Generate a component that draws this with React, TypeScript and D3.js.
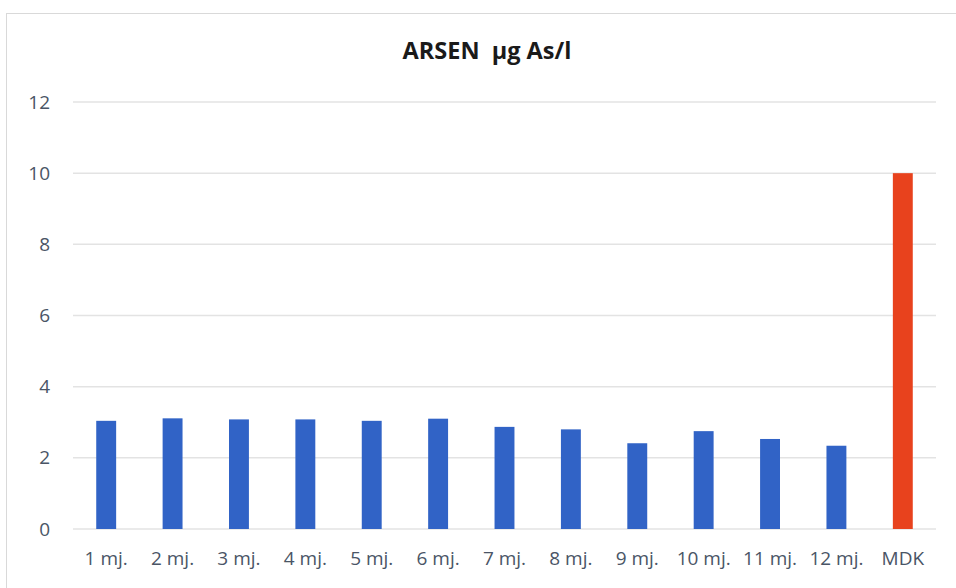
import { useEffect, useRef } from "react";
import * as d3 from "d3";

const categories = ["1 mj.", "2 mj.", "3 mj.", "4 mj.", "5 mj.", "6 mj.", "7 mj.", "8 mj.", "9 mj.", "10 mj.", "11 mj.", "12 mj.", "MDK"];
const values = [3.04, 3.11, 3.08, 3.08, 3.04, 3.1, 2.87, 2.8, 2.41, 2.75, 2.53, 2.34, 10];
const yTicks = [0, 2, 4, 6, 8, 10, 12];
const title = "ARSEN  µg As/l";

const W = 956;
const H = 588;
const margin = { top: 102, right: 20, bottom: 59, left: 73 };

export default function App() {
    const svgRef = useRef<SVGSVGElement | null>(null);

    useEffect(() => {
        const svg = d3.select(svgRef.current);
        svg.selectAll("*").remove();

        const x = d3.scaleBand()
            .domain(categories)
            .range([margin.left, W - margin.right])
            .paddingInner(0.7)
            .paddingOuter(0.35);
        const y = d3.scaleLinear()
            .domain([0, 12])
            .range([H - margin.bottom, margin.top]);

        // chart frame
        svg.append("rect")
            .attr("x", 6.5)
            .attr("y", 13.5)
            .attr("width", W + 10)
            .attr("height", H + 10)
            .attr("fill", "white")
            .attr("stroke", "#d9d9d9");

        svg.append("text")
            .attr("x", 487)
            .attr("y", 59)
            .attr("text-anchor", "middle")
            .style("font-family", "'Open Sans', sans-serif")
            .style("font-weight", "bold")
            .style("font-size", "23.5px")
            .style("white-space", "pre")
            .attr("fill", "#1a1a1a")
            .text(title);

        const grid = svg.append("g");
        grid.selectAll("line")
            .data(yTicks)
            .join("line")
            .attr("x1", margin.left)
            .attr("x2", W - margin.right)
            .attr("y1", d => y(d))
            .attr("y2", d => y(d))
            .attr("stroke", "#e3e3e3")
            .attr("stroke-width", 1.5);

        const yAxis = svg.append("g")
            .attr("transform", `translate(${margin.left - 23},0)`)
            .call(d3.axisLeft(y).tickValues(yTicks).tickSize(0).tickPadding(0));
        yAxis.select(".domain").remove();
        yAxis.selectAll("text")
            .style("font-family", "'Open Sans', sans-serif")
            .style("font-size", "19px")
            .attr("fill", "#4a5566");

        const xAxis = svg.append("g")
            .attr("transform", `translate(0,${H - margin.bottom})`)
            .call(d3.axisBottom(x).tickSize(0).tickPadding(23));
        xAxis.select(".domain").remove();
        xAxis.selectAll("text")
            .style("font-family", "'Open Sans', sans-serif")
            .style("font-size", "19px")
            .attr("fill", "#4a5566");

        svg.append("g")
            .selectAll("rect")
            .data(values)
            .join("rect")
            .attr("x", (_, i) => x(categories[i]) as number)
            .attr("width", x.bandwidth())
            .attr("y", d => y(d))
            .attr("height", d => y(0) - y(d))
            .attr("fill", (_, i) => categories[i] === "MDK" ? "#e8421d" : "#3163c6");
    }, []);

    return (
        <svg ref={svgRef} width={W} height={H} style={{ position: "absolute", left: 0, top: 0 }} />
    );
}
